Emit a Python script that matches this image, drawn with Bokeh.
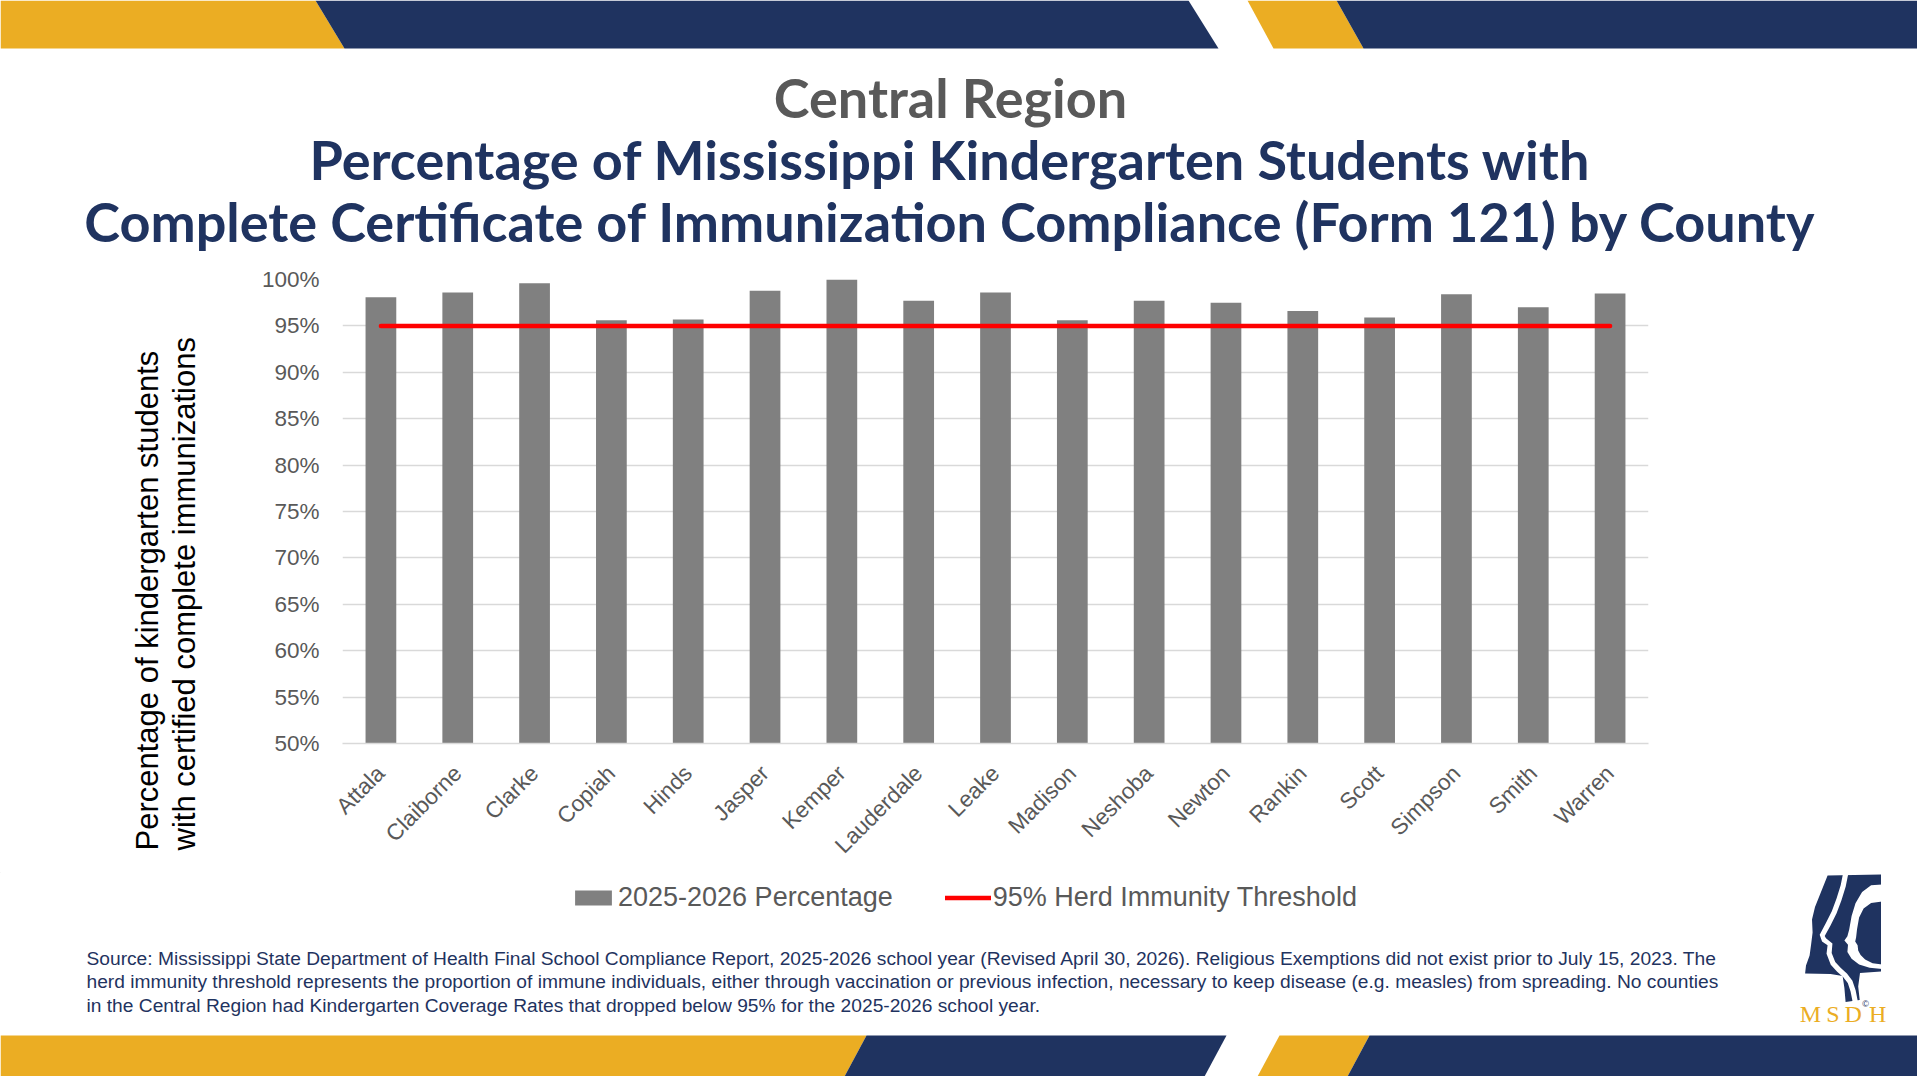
import math
import numpy as np
from bokeh.plotting import figure
from bokeh.layouts import column, row
from bokeh.models import (ColumnDataSource, Range1d, FixedTicker, PrintfTickFormatter,
                          Label, Legend, LegendItem, Title)
from bokeh.embed import file_html
from bokeh.resources import INLINE

# ---------------- data ----------------
counties = ["Attala", "Claiborne", "Clarke", "Copiah", "Hinds", "Jasper", "Kemper",
            "Lauderdale", "Leake", "Madison", "Neshoba", "Newton", "Rankin", "Scott",
            "Simpson", "Smith", "Warren"]
pct_2025_2026 = [98.1, 98.6, 99.6, 95.6, 95.7, 98.8, 100.0, 97.7, 98.6, 95.6,
                 97.7, 97.5, 96.6, 95.9, 98.4, 97.0, 98.5]
herd_threshold = [95, 95, 95, 95, 95, 95, 95, 95, 95, 95, 95, 95, 95, 95, 95, 95, 95]
y_ticks = [50, 55, 60, 65, 70, 75, 80, 85, 90, 95, 100]

title_region = "Central Region"
title_lines = ["Percentage of Mississippi Kindergarten Students with",
               "Complete Certificate of Immunization Compliance (Form 121) by County"]
y_label_lines = ["Percentage of kindergarten  students",
                 "with certified complete immunizations"]
legend_labels = ["2025-2026 Percentage", "95% Herd Immunity Threshold"]
source_lines = [
    "Source: Mississippi State Department of Health Final School Compliance Report, 2025-2026 school year (Revised April 30, 2026). Religious Exemptions did not exist prior to July 15, 2023. The",
    "herd immunity threshold represents the proportion of immune individuals, either through vaccination or previous infection, necessary to keep disease (e.g. measles) from spreading. No counties",
    "in the Central Region had Kindergarten Coverage Rates that dropped below 95% for the 2025-2026 school year.",
]
logo_letters = ["M", "S", "D", "H"]

# ---------------- style ----------------
GOLD = "#EBAD23"
NAVY = "#1F3360"
GRAY_TXT = "#595959"
BAR = "#808080"
RED = "#FF0000"
GRID = "#D9D9D9"

PW, PH = 1917, 1076                  # page size
FL, FR, FT, FB = 342, 1648, 279, 743  # chart frame edges (page px)
TOP_H = 262                          # header block bottom
MID_B = 872                          # chart block bottom
BASE_K = 0.38                        # baseline correction (fraction of font size)


def deco_fig(x0, x1, y0, y1):
    f = figure(width=x1 - x0, height=y1 - y0, x_range=Range1d(x0, x1),
               y_range=Range1d(y1, y0), x_axis_location=None, y_axis_location=None,
               output_backend="svg", toolbar_location=None, title=None, min_border=0)
    f.outline_line_color = None
    f.grid.visible = False
    f.background_fill_color = "white"
    f.border_fill_color = "white"
    return f


def patch(f, pts, color):
    f.patch([x for x, _ in pts], [y for _, y in pts], fill_color=color, line_color=None)


def label(f, text, X, Y, size, color, font="Liberation Sans", style="normal",
          align="left"):
    f.add_layout(Label(x=X, y=Y - BASE_K * size, text=text, text_font=font,
                       text_font_size=f"{size}px", text_font_style=style,
                       text_color=color, text_align=align, text_baseline="alphabetic"))


# ---------------- chart ----------------
p = figure(x_range=counties, y_range=Range1d(50, 100), width=PW, height=MID_B - TOP_H,
           title=None, output_backend="svg", toolbar_location=None,
           min_border_left=FL, min_border_right=PW - FR,
           min_border_top=FT - TOP_H, min_border_bottom=MID_B - FB)
p.background_fill_color = "white"
p.border_fill_color = "white"
p.outline_line_color = None

src = ColumnDataSource(dict(county=counties, pct=pct_2025_2026, thr=herd_threshold))
bars = p.vbar(x="county", top="pct", bottom=50, width=0.4, source=src,
              fill_color=BAR, line_color=None)
thr_line = p.line(x="county", y="thr", source=src, line_color=RED, line_width=4.5,
                  line_cap="round")

ticker = FixedTicker(ticks=y_ticks)
p.yaxis.ticker = ticker
p.ygrid.ticker = ticker
p.yaxis.formatter = PrintfTickFormatter(format="%d%%")
p.xgrid.grid_line_color = None
p.ygrid.grid_line_color = GRID
p.ygrid.grid_line_width = 1.5

for ax in (p.xaxis, p.yaxis):
    ax.major_tick_line_color = None
    ax.minor_tick_line_color = None
    ax.major_tick_out = 0
    ax.major_tick_in = 0
    ax.minor_tick_out = 0
    ax.major_label_text_font = "Liberation Sans"
    ax.major_label_text_font_size = "22.5px"
    ax.major_label_text_color = GRAY_TXT
p.yaxis.axis_line_color = None
p.yaxis.major_label_standoff = 23
p.xaxis.axis_line_color = GRID
p.xaxis.axis_line_width = 1.5
p.xaxis.major_label_orientation = math.pi / 4
p.xaxis.major_label_standoff = 26

# y-axis title (two lines)
p.add_layout(Title(text="\n".join(y_label_lines), align="left", offset=-107, standoff=112,
                   text_font="Liberation Sans", text_font_size="31px",
                   text_font_style="normal", text_color="#000000",
                   text_line_height=1.07), "left")

# ---------------- header ----------------
top = deco_fig(0, PW, 0, TOP_H)
patch(top, [(0, 0), (315, 0), (344, 48), (0, 48)], GOLD)
patch(top, [(315, 0), (1188, 0), (1218, 48), (344, 48)], NAVY)
patch(top, [(1247, 0), (1336, 0), (1363, 48), (1273, 48)], GOLD)
patch(top, [(1336, 0), (PW, 0), (PW, 48), (1363, 48)], NAVY)
label(top, title_region, 950, 118, 54, GRAY_TXT, font="Lato", style="bold", align="center")
label(top, title_lines[0], 950, 180, 54, NAVY, font="Lato", style="bold", align="center")
label(top, title_lines[1], 950, 242, 54, NAVY, font="Lato", style="bold", align="center")

# ---------------- bottom block ----------------
bottom = deco_fig(0, PW, MID_B, PH)

LOGO_S = 0.9
LOGO_TOP = 874


def zpage(zx, zy):
    return (1846 + (zx - 153) / 3.0 * LOGO_S, LOGO_TOP + (zy - 22) / 3.0 * LOGO_S)


def stripe_pts(zpath, hw):
    pts = np.array([zpage(x, y) for x, y in zpath], dtype=float)
    n = len(pts)
    lft, rgt = [], []
    for i in range(n):
        a = pts[max(i - 1, 0)]
        b = pts[min(i + 1, n - 1)]
        t = b - a
        t = t / (np.hypot(t[0], t[1]) or 1.0)
        nrm = np.array([-t[1], t[0]])
        lft.append(tuple(pts[i] + nrm * hw))
        rgt.append(tuple(pts[i] - nrm * hw))
    return lft + rgt[::-1]


logo_state = [zpage(x, y) for x, y in [
    (90, 25), (268, 22), (268, 345), (198, 350), (192, 395), (197, 440), (150, 447),
    (146, 400), (140, 360), (100, 354), (15, 352), (18, 325), (30, 292), (35, 255),
    (40, 215), (38, 172), (48, 130), (62, 95), (76, 60)]]
logo_gap_a = stripe_pts([(152, 10), (142, 60), (128, 105), (112, 148), (92, 188), (72, 225),
                         (78, 240), (98, 255), (95, 285), (108, 318), (128, 340), (148, 358),
                         (165, 380), (175, 410), (185, 460)], 2.6)
logo_gap_c = [zpage(x, y) for x, y in [
    (272, 55), (235, 58), (205, 80), (183, 118), (170, 160), (162, 205), (156, 228),
    (146, 242), (158, 256), (156, 280), (170, 303), (195, 322), (230, 333), (272, 337),
    (272, 322), (240, 318), (215, 305), (200, 290), (192, 275), (190, 258), (182, 245),
    (185, 232), (188, 205), (195, 165), (210, 135), (235, 117), (272, 112)]]
patch(bottom, logo_state, NAVY)
patch(bottom, logo_gap_a, "white")
patch(bottom, logo_gap_c, "white")

patch(bottom, [(0, 1035), (866, 1035), (844, 1076), (0, 1076)], GOLD)
patch(bottom, [(866, 1035), (1226, 1035), (1204, 1076), (844, 1076)], NAVY)
patch(bottom, [(1279, 1035), (1369, 1035), (1347, 1076), (1257, 1076)], GOLD)
patch(bottom, [(1369, 1035), (PW, 1035), (PW, 1076), (1347, 1076)], NAVY)

for txt, base in zip(source_lines, [965, 988, 1012]):
    label(bottom, txt, 86, base, 19.2, NAVY)
letters_base = LOGO_TOP + (519 - 22) / 3.0 * LOGO_S
for letter, cx in zip(logo_letters, [1806, 1831, 1853.5, 1880.5]):
    label(bottom, letter, 1846 + (cx - 1846) * LOGO_S, letters_base, 24, GOLD,
          font="Liberation Serif", align="center")
label(bottom, "\u00a9", 1865, LOGO_TOP + (465 - 22) / 3.0 * LOGO_S, 9, NAVY, align="center")

# legend keys (same styling as the chart's series; points lie outside the view)
key_bar = bottom.vbar(x=[-500], top=[-500], bottom=[-501], width=1,
                      fill_color=BAR, line_color=None)
key_line = bottom.line(x=[-500, -499], y=[-500, -500], line_color=RED, line_width=4.5,
                       line_cap="round")
legend = Legend(items=[LegendItem(label=legend_labels[0], renderers=[key_bar]),
                       LegendItem(label=legend_labels[1], renderers=[key_line])],
                location=(570, PH - 913), orientation="horizontal",
                border_line_color=None, background_fill_alpha=0, padding=0, margin=0,
                spacing=52, glyph_width=46, glyph_height=19, label_standoff=2,
                label_height=30, label_text_font="Liberation Sans",
                label_text_font_size="27px", label_text_color=GRAY_TXT)
bottom.add_layout(legend)

layout = column(top, row(p), bottom)
open("out.html", "w").write(file_html(layout, INLINE, "Central Region"))
